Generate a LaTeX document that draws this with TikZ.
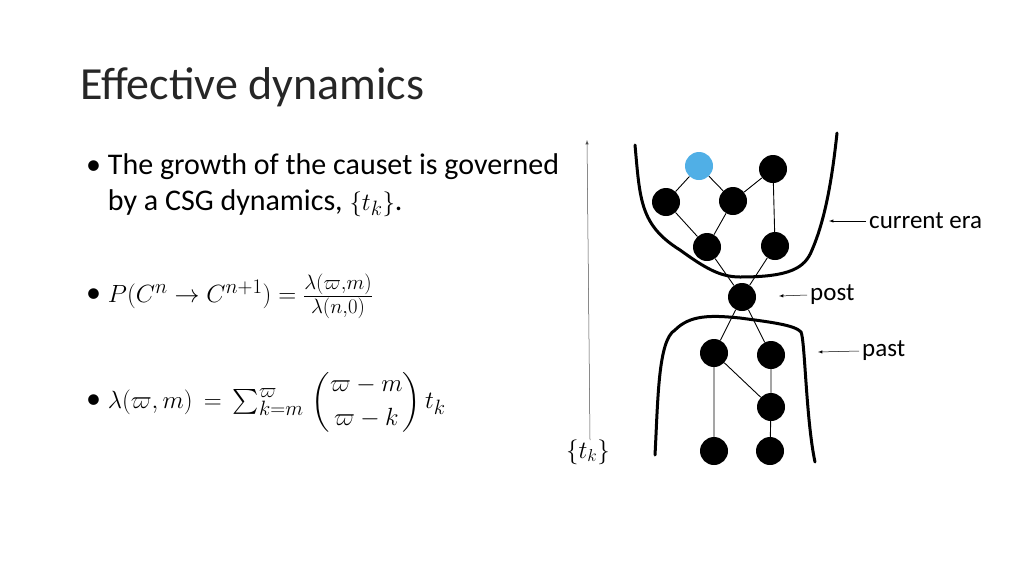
\documentclass[tikz,border=0pt]{standalone}
\usepackage{amsmath}
\usepackage{fontspec}
\setmainfont{Carlito}
\begin{document}
\begin{tikzpicture}[x=1pt,y=-1pt,
 dot/.style={circle,fill=black,minimum size=28pt,inner sep=0pt},
 edge/.style={line width=0.9pt},
 bound/.style={line width=3pt,line cap=round},
 lbl/.style={font=\fontsize{25}{28}\selectfont,anchor=west,inner sep=0pt},
 bul/.style={font=\fontsize{30}{36}\selectfont,anchor=west,inner sep=0pt,align=left}]
\useasboundingbox (0,0) rectangle (1024,576);
\node[anchor=west,inner sep=0pt,font=\fontsize{46}{50}\selectfont,text=black!85] (title) at (80,87) {Effective dynamics};
\node[bul,anchor=north west] (b1) at (86,153) {\textbullet\ The growth of the causet is governed\\\phantom{\textbullet\ }by a CSG dynamics, $\{t_k\}$.};
\node[bul] (b2) at (86,296) {\textbullet\ $P(C^n\to C^{n+1})=\frac{\lambda(\varpi,m)}{\lambda(n,0)}$};
\node[bul] (b3) at (86,402) {\textbullet\ $\lambda(\varpi,m)\,=\,\sum_{k=m}^{\varpi}\,\dbinom{\varpi-m}{\varpi-k}\,t_k$};
% time arrow
\coordinate (ta) at (590,440);
\coordinate (tb) at (587,140);
\draw[-latex,line width=0.5pt,black!70] (ta) -- (tb);
\node[font=\fontsize{26}{28}\selectfont] (tk) at (588,452) {$\{t_k\}$};
% nodes
\node[dot,fill=cyan!80!blue!70] (a) at (699,166) {};
\node[dot] (b) at (773,169) {};
\node[dot] (c) at (666,202) {};
\node[dot] (d) at (733,201) {};
\node[dot] (e) at (707,247) {};
\node[dot] (f) at (775,246) {};
\node[dot] (p) at (742,297) {};
\node[dot] (g) at (714,353) {};
\node[dot] (h) at (771,355) {};
\node[dot] (i) at (771,407) {};
\node[dot] (j) at (714,451) {};
\node[dot] (k) at (770,451) {};
\draw[edge] (a)--(c) (a)--(d) (d)--(b) (c)--(e) (d)--(e) (b)--(f)
 (e)--(p) (f)--(p) (p)--(g) (p)--(h) (g)--(j) (g)--(i) (h)--(i) (i)--(k);
% boundaries
\draw[bound] (635,145) .. controls (640,200) and (640,225) .. (680,250)
 .. controls (705,268) and (720,277) .. (740,277)
 .. controls (790,277) and (805,268) .. (812,250)
 .. controls (825,220) and (832,180) .. (837,133);
\draw[bound] (655,455) .. controls (658,400) and (658,340) .. (675,330)
 .. controls (690,315) and (710,315) .. (740,318)
 .. controls (770,322) and (795,325) .. (801,332)
 .. controls (805,340) and (806,420) .. (815,462);
% labels
\node[lbl] (ce) at (869,221) {current era};
\node[lbl] (po) at (810,295) {post};
\node[lbl] (pa) at (862,351) {past};
\draw[-latex,line width=0.5pt] (ce.west)++(-3,0) -- (829,221);
\draw[-latex,line width=0.5pt] (po.west)++(-3,0) -- (779,296);
\draw[-latex,line width=0.5pt] (pa.west)++(-3,0) -- (818,352);
\end{tikzpicture}
\end{document}
